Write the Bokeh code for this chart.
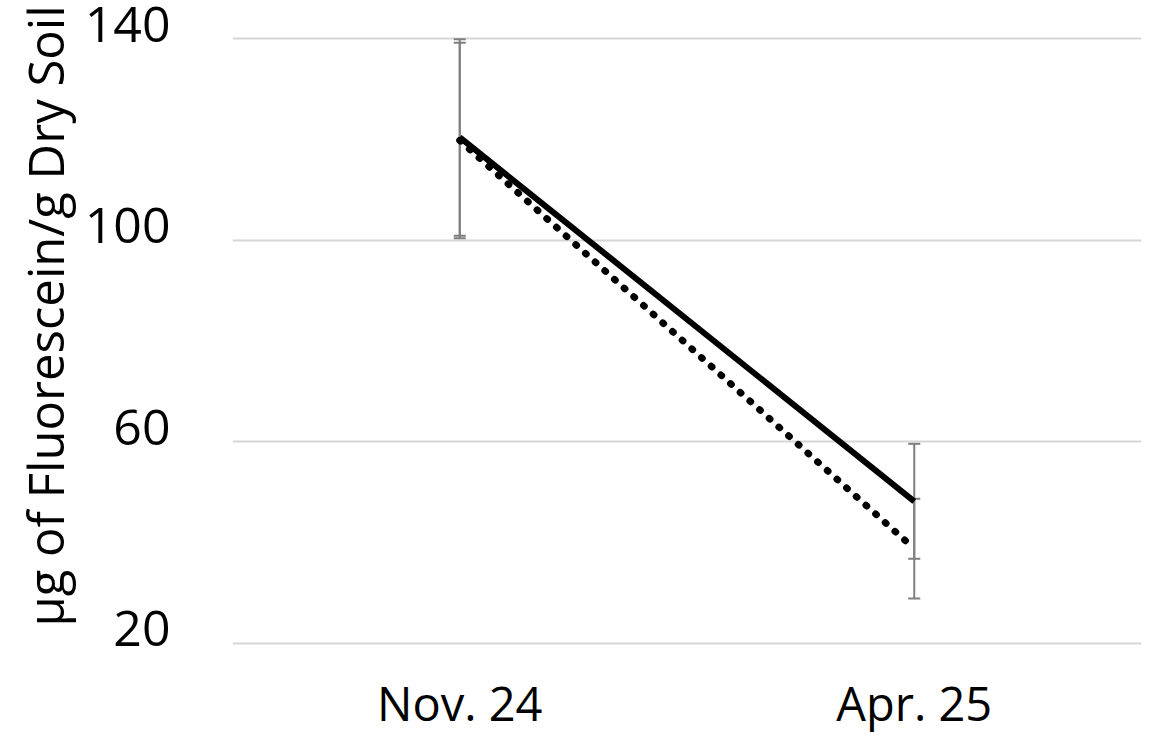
from bokeh.plotting import figure
from bokeh.models import (FactorRange, Range1d, FixedTicker, Whisker, TeeHead,
                          ColumnDataSource, Title)
from bokeh.embed import file_html
from bokeh.resources import INLINE

# ---- data ----
categories = ["Nov. 24", "Apr. 25"]
solid_values = [120.4, 48.2]
solid_errors = [19.5, 11.4]
dotted_values = [119.8, 38.8]
dotted_errors = [19.4, 9.9]
y_ticks = [20, 60, 100, 140]
y_tick_labels = ["20", "60", "100", "140"]
y_title = "μg of Fluorescein/g Dry Soil"

FONT = "Open Sans"
LABEL_SHIFT = 2.9  # tick labels sit slightly above their gridlines

p = figure(
    x_range=FactorRange(factors=categories, range_padding=0),
    y_range=Range1d(17.6, 143.4),
    width=1156, height=744,
    min_border_left=232, min_border_right=15,
    min_border_top=21, min_border_bottom=89,
    output_backend="svg", toolbar_location=None,
)
p.outline_line_color = None
p.background_fill_color = "white"
p.border_fill_color = "white"

p.xgrid.grid_line_color = None
p.ygrid.grid_line_color = "#d6d6d6"
p.ygrid.grid_line_width = 2
p.ygrid.ticker = FixedTicker(ticks=y_ticks)

label_pos = [t + LABEL_SHIFT for t in y_ticks]
p.yaxis.ticker = FixedTicker(ticks=label_pos)
p.yaxis.major_label_overrides = {pos: txt for pos, txt in zip(label_pos, y_tick_labels)}

for ax in (p.xaxis, p.yaxis):
    ax.axis_line_color = None
    ax.major_tick_line_color = None
    ax.minor_tick_line_color = None
    ax.major_label_text_font = FONT
    ax.major_label_text_color = "black"

p.xaxis.major_label_text_font_size = "47px"
p.xaxis.major_label_standoff = 9
p.yaxis.major_label_text_font_size = "50px"
p.yaxis.major_label_standoff = 56

p.add_layout(Title(text=y_title, align="left", offset=29, standoff=8,
                   text_font=FONT, text_font_size="49px",
                   text_font_style="normal", text_color="black"), "left")

def lo(v, e):
    return [a - b for a, b in zip(v, e)]

def hi(v, e):
    return [a + b for a, b in zip(v, e)]

src_s = ColumnDataSource(dict(x=categories, y=solid_values,
                              lower=lo(solid_values, solid_errors),
                              upper=hi(solid_values, solid_errors)))
src_d = ColumnDataSource(dict(x=categories, y=dotted_values,
                              lower=lo(dotted_values, dotted_errors),
                              upper=hi(dotted_values, dotted_errors)))

for src in (src_d, src_s):
    w = Whisker(source=src, base="x", lower="lower", upper="upper",
                line_color="#7f7f7f", line_width=2, level="underlay",
                upper_head=TeeHead(size=12, line_color="#7f7f7f", line_width=2),
                lower_head=TeeHead(size=12, line_color="#7f7f7f", line_width=2))
    p.add_layout(w)

p.line("x", "y", source=src_d, line_color="black", line_width=7,
       line_dash="1 12", line_cap="round")
p.line("x", "y", source=src_s, line_color="black", line_width=6)

open("out.html", "w").write(file_html(p, INLINE))
